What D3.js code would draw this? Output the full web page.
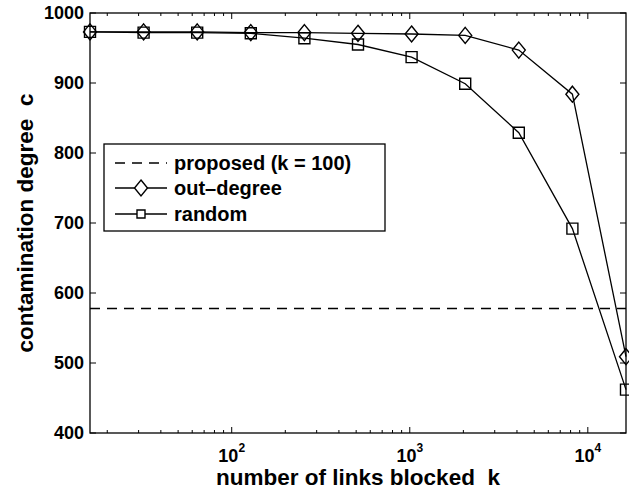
<!DOCTYPE html>
<html>
<head>
<meta charset="utf-8">
<script src="https://cdn.jsdelivr.net/npm/d3@7"></script>
<style>
  body { margin: 0; background: #fff; }
  svg text { font-family: "Liberation Sans", Arial, Helvetica, sans-serif; font-weight: bold; fill: #000; }
</style>
</head>
<body>
<svg id="chart" width="629" height="491"></svg>
<script>
// links blocked k (x) and contamination degree c (y)
var kValues = [16, 32, 64, 128, 256, 512, 1024, 2048, 4096, 8192, 16384];
var outDegree = [973, 973, 973, 972, 972, 971, 970, 968, 947, 884, 509];
var randomBlock = [973, 972, 972, 971, 964, 955, 937, 899, 829, 692, 462];
var proposed = 578;
var yTicks = [400, 500, 600, 700, 800, 900, 1000];
var xTickExps = [2, 3, 4];
var legendLabels = ["proposed (k = 100)", "out\u2013degree", "random"];

var svg = d3.select("#chart");
var margin = {left: 90, right: 3, top: 13, bottom: 58};
var width = 629 - margin.left - margin.right,
    height = 491 - margin.top - margin.bottom;

var x = d3.scaleLog().domain([16, 16384]).range([0, width]);
var y = d3.scaleLinear().domain([400, 1000]).range([height, 0]);

var g = svg.append("g").attr("transform", "translate(" + margin.left + "," + margin.top + ")");

// minor + major ticks for log axis
var minor = [];
for (var e = 1; e <= 4; e++) {
  for (var m = 1; m <= 9; m++) {
    var v = m * Math.pow(10, e);
    if (v >= 16 && v <= 16384) minor.push(v);
  }
}
var major = xTickExps.map(function(p) { return Math.pow(10, p); });

function tickLines(sel, vals, len, pos) {
  sel.selectAll(null).data(vals).enter().append("line")
    .attr("x1", function(d) { return x(d); }).attr("x2", function(d) { return x(d); })
    .attr("y1", pos).attr("y2", pos === 0 ? len : height - len)
    .attr("stroke", "#000").attr("stroke-width", 1);
}
var ticks = g.append("g");
tickLines(ticks, minor.filter(function(d) { return major.indexOf(d) < 0; }), 3, height);
tickLines(ticks, major, 6, height);
tickLines(ticks, minor.filter(function(d) { return major.indexOf(d) < 0; }), 3, 0);
tickLines(ticks, major, 6, 0);

ticks.selectAll(null).data(yTicks).enter().append("line")
  .attr("x1", 0).attr("x2", 6)
  .attr("y1", function(d) { return y(d); }).attr("y2", function(d) { return y(d); })
  .attr("stroke", "#000");
ticks.selectAll(null).data(yTicks).enter().append("line")
  .attr("x1", width).attr("x2", width - 6)
  .attr("y1", function(d) { return y(d); }).attr("y2", function(d) { return y(d); })
  .attr("stroke", "#000");

// frame
g.append("rect").attr("width", width).attr("height", height)
  .attr("fill", "none").attr("stroke", "#000").attr("stroke-width", 1.3);

// y tick labels
g.selectAll(null).data(yTicks).enter().append("text")
  .attr("x", -6).attr("y", function(d) { return y(d); })
  .attr("dy", "0.36em").attr("text-anchor", "end")
  .style("font-size", "18px").text(function(d) { return d; });

// x tick labels 10^n
var xl = g.selectAll(null).data(xTickExps).enter().append("text")
  .attr("x", function(d) { return x(Math.pow(10, d)); })
  .attr("y", height + 29)
  .attr("text-anchor", "middle")
  .style("font-size", "18px");
xl.append("tspan").text("10");
xl.append("tspan").attr("dy", -10).style("font-size", "12px").text(function(d) { return d; });

// axis titles
g.append("text").attr("x", width / 2).attr("y", height + 52)
  .attr("text-anchor", "middle").style("font-size", "22.5px")
  .attr("xml:space", "preserve").text("number of links blocked  k");
svg.append("text")
  .attr("transform", "translate(33," + (margin.top + height / 2) + ") rotate(-90)")
  .attr("text-anchor", "middle").style("font-size", "22.5px")
  .attr("xml:space", "preserve").text("contamination degree  c");

// proposed dashed line
g.append("line").attr("x1", 0).attr("x2", width)
  .attr("y1", y(proposed)).attr("y2", y(proposed))
  .attr("stroke", "#000").attr("stroke-width", 1.5).attr("stroke-dasharray", "10,7");

var line = d3.line().x(function(d) { return x(d[0]); }).y(function(d) { return y(d[1]); });
var outPts = kValues.map(function(k, i) { return [k, outDegree[i]]; });
var randPts = kValues.map(function(k, i) { return [k, randomBlock[i]]; });

g.append("path").datum(outPts).attr("d", line)
  .attr("fill", "none").attr("stroke", "#000").attr("stroke-width", 1.3);
g.append("path").datum(randPts).attr("d", line)
  .attr("fill", "none").attr("stroke", "#000").attr("stroke-width", 1.3);

var diamond = "M0,-8L6.5,0L0,8L-6.5,0Z";
var square = "M-5.5,-5.5H5.5V5.5H-5.5Z";

g.selectAll(null).data(outPts).enter().append("path")
  .attr("d", diamond)
  .attr("transform", function(d) { return "translate(" + x(d[0]) + "," + y(d[1]) + ")"; })
  .attr("fill", "none").attr("stroke", "#000").attr("stroke-width", 1.4);
g.selectAll(null).data(randPts).enter().append("path")
  .attr("d", square)
  .attr("transform", function(d) { return "translate(" + x(d[0]) + "," + y(d[1]) + ")"; })
  .attr("fill", "none").attr("stroke", "#000").attr("stroke-width", 1.4);

// legend
var lg = svg.append("g").attr("transform", "translate(104,144)");
lg.append("rect").attr("width", 281).attr("height", 87)
  .attr("fill", "#fff").attr("stroke", "#000").attr("stroke-width", 1.3);
var rowY = [19, 44, 70];
lg.selectAll(null).data(legendLabels).enter().append("text")
  .attr("x", 70).attr("y", function(d, i) { return rowY[i]; })
  .attr("dy", "0.36em").style("font-size", "20px").text(function(d) { return d; });
lg.append("line").attr("x1", 11).attr("x2", 63).attr("y1", rowY[0]).attr("y2", rowY[0])
  .attr("stroke", "#000").attr("stroke-width", 1.5).attr("stroke-dasharray", "10,7");
lg.append("line").attr("x1", 11).attr("x2", 63).attr("y1", rowY[1]).attr("y2", rowY[1])
  .attr("stroke", "#000").attr("stroke-width", 1.3);
lg.append("line").attr("x1", 11).attr("x2", 63).attr("y1", rowY[2]).attr("y2", rowY[2])
  .attr("stroke", "#000").attr("stroke-width", 1.3);
lg.append("path").attr("d", diamond).attr("transform", "translate(37," + rowY[1] + ")")
  .attr("fill", "#fff").attr("stroke", "#000").attr("stroke-width", 1.4);
lg.append("path").attr("d", "M-4,-4H4V4H-4Z").attr("transform", "translate(37," + rowY[2] + ")")
  .attr("fill", "#fff").attr("stroke", "#000").attr("stroke-width", 1.4);
</script>
</body>
</html>
